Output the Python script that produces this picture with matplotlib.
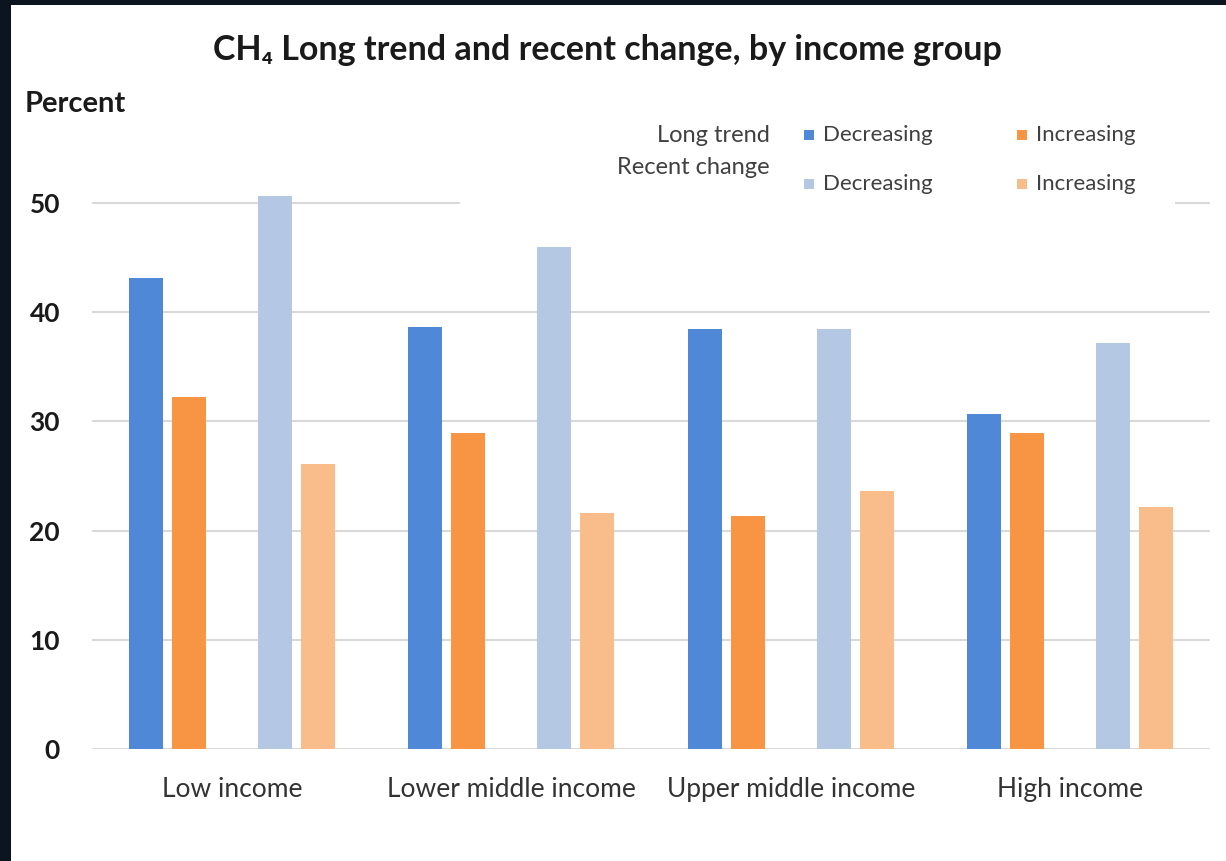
import matplotlib.pyplot as plt
from matplotlib.patches import Rectangle
import numpy as np

groups = ["Low income", "Lower middle income", "Upper middle income", "High income"]
long_dec = [43.1, 38.6, 38.5, 30.7]
long_inc = [32.2, 28.9, 21.3, 28.9]
recent_dec = [50.6, 46.0, 38.5, 37.2]
recent_inc = [26.1, 21.6, 23.6, 22.2]
yticks = [0, 10, 20, 30, 40, 50]

c_blue = "#4f88d6"
c_orange = "#f79544"
c_lblue = "#b4c8e4"
c_lorange = "#f8bd8a"

W, H = 1226, 861
plt.rcParams['font.family'] = ['Lato', 'DejaVu Sans']

def fx(px):
    return px / W

def fy(py):
    return 1 - py / H

fig = plt.figure(figsize=(W / 100, H / 100), dpi=100, facecolor="#0c1420")
# white chart panel
fig.patches.append(Rectangle((fx(11), 0), 1 - fx(11), fy(5), transform=fig.transFigure,
                             facecolor="white", edgecolor="none", zorder=-10))

ax = fig.add_axes([fx(92), fy(749), fx(1210) - fx(92), fy(148.4) - fy(749)])
ax.set_facecolor("none")
ax.set_zorder(1)

x = np.arange(len(groups))
step = 0.154
bw = 0.122
ax.bar(x - 2 * step, long_dec, bw, color=c_blue, zorder=3)
ax.bar(x - step, long_inc, bw, color=c_orange, zorder=3)
ax.bar(x + step, recent_dec, bw, color=c_lblue, zorder=3)
ax.bar(x + 2 * step, recent_inc, bw, color=c_lorange, zorder=3)

ax.set_xlim(-0.5, 3.5)
ax.set_ylim(0, 55)
ax.set_yticks(yticks)
ax.set_yticklabels([str(t) for t in yticks], fontsize=19, fontweight="bold", color="#1a1a1a")
ax.set_xticks(x)
ax.set_xticklabels(groups, fontsize=19, color="#333333")
ax.tick_params(length=0)
ax.tick_params(axis="y", pad=23)
ax.tick_params(axis="x", pad=20)
ax.grid(axis="y", color="#d9d9d9", linewidth=1.5, zorder=0)
for s in ax.spines.values():
    s.set_visible(False)

# legend area covers the top grid line
ax.add_patch(Rectangle((fx(460), fy(215)), fx(1175) - fx(460), fy(110) - fy(215),
                       transform=fig.transFigure, facecolor="white", edgecolor="none", zorder=2))

fig.text(fx(607), fy(50), "CH\u2084 Long trend and recent change, by income group", ha="center", va="center",
         fontsize=24.5, fontweight="bold", color="#1a1a1a")
fig.text(fx(25), fy(104), "Percent", ha="left", va="center", fontsize=21, fontweight="bold", color="#1a1a1a")

fig.text(fx(770), fy(135), "Long trend", ha="right", va="center", fontsize=17, color="#404040")
fig.text(fx(770), fy(167), "Recent change", ha="right", va="center", fontsize=17, color="#404040")
legend_items = [
    (809, 135, c_blue, "Decreasing"),
    (1022, 135, c_orange, "Increasing"),
    (809, 184, c_lblue, "Decreasing"),
    (1022, 184, c_lorange, "Increasing"),
]
for px, py, col, lab in legend_items:
    fig.patches.append(Rectangle((fx(px) - fx(5), fy(py) - 5 / H), fx(10), 10 / H, transform=fig.transFigure,
                                 facecolor=col, edgecolor="none", zorder=5))
    fig.text(fx(px + 14), fy(py), lab, ha="left", va="center", fontsize=16, color="#404040")

fig.savefig("out.png", dpi=100, facecolor=fig.get_facecolor())
